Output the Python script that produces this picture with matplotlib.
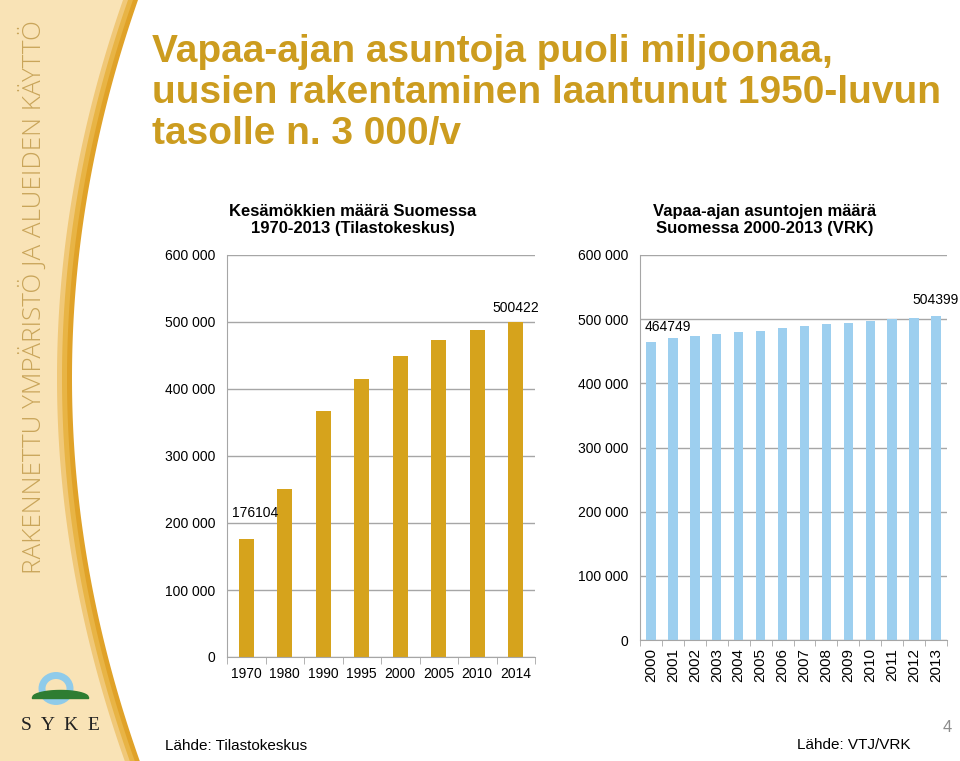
"""
Vapaa-ajan asunnot -dia: kaksi pylväskaaviota
"""
import numpy as np
import matplotlib.pyplot as plt
from matplotlib.patches import Polygon, Ellipse
from matplotlib.ticker import FuncFormatter

# Kesämökit 1970-2014 (Tilastokeskus)
mokki_years = ["1970", "1980", "1990", "1995", "2000", "2005", "2010", "2014"]
mokki_counts = [176104, 251000, 367000, 415000, 449000, 473000, 488000, 500422]

# Vapaa-ajan asunnot 2000-2013 (VRK)
vrk_years = [str(y) for y in range(2000, 2014)]
vrk_counts = [464749, 470100, 473700, 477300, 479900, 481000, 485700,
              488800, 491900, 494400, 497000, 500200, 501500, 504399]

yticks = [0, 100000, 200000, 300000, 400000, 500000, 600000]

GOLD = "#D6A31C"
BLUE = "#9DCFEF"
GRID = "#A6A6A6"
TITLE = "#CC9C1F"

plt.rcParams["font.family"] = ["Liberation Sans", "DejaVu Sans"]

W, H = 960, 761
fig = plt.figure(figsize=(W / 100, H / 100), dpi=100)


def fx(px):
    return px / W


def fy(py):
    return 1 - py / H


# sivupalkki: kaareva kultainen reuna
ys = np.linspace(0, H, 200)
yc = 378
outer = 72 + 66 / yc ** 2 * (ys - yc) ** 2
bands = [(0, "#E0A228"), (5, "#E8B445"), (10, "#F0C878"), (15, "#F9E3B6")]
for inset, col in bands:
    pts = [(0, fy(0))] + [(fx(e - inset), fy(y)) for e, y in zip(outer, ys)] + [(0, fy(H))]
    fig.patches.append(Polygon(pts, closed=True, transform=fig.transFigure,
                               facecolor=col, edgecolor="none", zorder=0))

fig.text(fx(33), fy(297), "RAKENNETTU YMPÄRISTÖ JA ALUEIDEN KÄYTTÖ",
         rotation=90, ha="center", va="center", fontsize=18.8,
         color="#C9A55A", family=["Open Sans", "DejaVu Sans"],
         fontweight="light")

# SYKE-logo
logo = fig.add_axes([fx(20), fy(712), fx(80), fy(662) - fy(712)], zorder=3)
logo.set_xlim(0, 80)
logo.set_ylim(0, 50)
logo.axis("off")
logo.add_patch(Ellipse((36, 23.5), 28, 26, facecolor="none", edgecolor="#8FCBEA", linewidth=5))
hill_x = np.linspace(12, 68, 60)
hill_y = 15 + 7 * np.sqrt(np.clip(1 - ((hill_x - 40) / 28) ** 2, 0, 1))
logo.fill_between(hill_x, 14, hill_y, color="#2E7D32", zorder=3)
fig.text(fx(60), fy(725), "S  Y  K  E", ha="center", va="center",
         fontsize=14, family=["Liberation Serif", "DejaVu Serif"], color="#222222")

# otsikko
fig.text(fx(152), fy(34), "Vapaa-ajan asuntoja puoli miljoonaa,\n"
         "uusien rakentaminen laantunut 1950-luvun\ntasolle n. 3 000/v",
         ha="left", va="top", fontsize=28, fontweight="bold", color=TITLE,
         linespacing=1.17)

fmt = FuncFormatter(lambda v, p: f"{int(v):,}".replace(",", " "))


def style_axes(ax):
    ax.set_ylim(0, 600000)
    ax.set_yticks(yticks)
    ax.yaxis.set_major_formatter(fmt)
    ax.grid(axis="y", color=GRID, linewidth=1)
    ax.set_axisbelow(True)
    for s in ["top", "right"]:
        ax.spines[s].set_visible(False)
    for s in ["left", "bottom"]:
        ax.spines[s].set_color(GRID)
    ax.tick_params(axis="y", length=0, labelsize=10, pad=8.5)
    ax.tick_params(axis="x", length=0)


# vasen kaavio
ax1 = fig.add_axes([fx(227), fy(657), fx(535) - fx(227), fy(255) - fy(657)])
x1 = np.arange(len(mokki_years))
ax1.bar(x1, mokki_counts, width=0.4, color=GOLD)
ax1.set_xlim(-0.5, len(x1) - 0.5)
ax1.set_xticks(x1)
ax1.set_xticklabels(mokki_years)
ax1.set_xticks(np.arange(-0.5, len(x1)), minor=True)
style_axes(ax1)
ax1.tick_params(axis="x", which="minor", length=5, color=GRID)
ax1.tick_params(axis="x", which="major", pad=7, labelsize=10)
ax1.annotate(f"{mokki_counts[0]}", (x1[0], mokki_counts[0]), xytext=(6.5, 16),
             textcoords="offset points", ha="center", fontsize=10)
ax1.annotate(f"{mokki_counts[-1]}", (x1[-1], mokki_counts[-1]), xytext=(0, 7),
             textcoords="offset points", ha="center", fontsize=10)
fig.text(fx(353), fy(220), "Kesämökkien määrä Suomessa\n1970-2013 (Tilastokeskus)",
         ha="center", va="center", fontsize=12, fontweight="bold")

# oikea kaavio
ax2 = fig.add_axes([fx(640), fy(640), fx(947) - fx(640), fy(255) - fy(640)])
x2 = np.arange(len(vrk_years))
ax2.bar(x2, vrk_counts, width=0.43, color=BLUE)
ax2.set_xlim(-0.5, len(x2) - 0.5)
ax2.set_xticks(x2)
ax2.set_xticklabels(vrk_years, rotation=90)
ax2.set_xticks(np.arange(-0.5, len(x2)), minor=True)
style_axes(ax2)
ax2.tick_params(axis="x", which="minor", length=4, color=GRID)
ax2.tick_params(axis="x", which="major", pad=6, labelsize=11)
ax2.annotate(f"{vrk_counts[0]}", (x2[0], vrk_counts[0]), xytext=(12, 8),
             textcoords="offset points", ha="center", fontsize=10)
ax2.annotate(f"{vrk_counts[-1]}", (x2[-1], vrk_counts[-1]), xytext=(0, 9),
             textcoords="offset points", ha="center", fontsize=10)
fig.text(fx(765), fy(220), "Vapaa-ajan asuntojen määrä\nSuomessa 2000-2013 (VRK)",
         ha="center", va="center", fontsize=12, fontweight="bold")

# lähteet
fig.text(fx(165), fy(746), "Lähde: Tilastokeskus", ha="left", va="center", fontsize=11)
fig.text(fx(797), fy(745), "Lähde: VTJ/VRK", ha="left", va="center", fontsize=11)
fig.text(fx(947), fy(727), "4", ha="center", va="center", fontsize=12, color="#8C8C8C")

fig.savefig("out.png", dpi=100)
